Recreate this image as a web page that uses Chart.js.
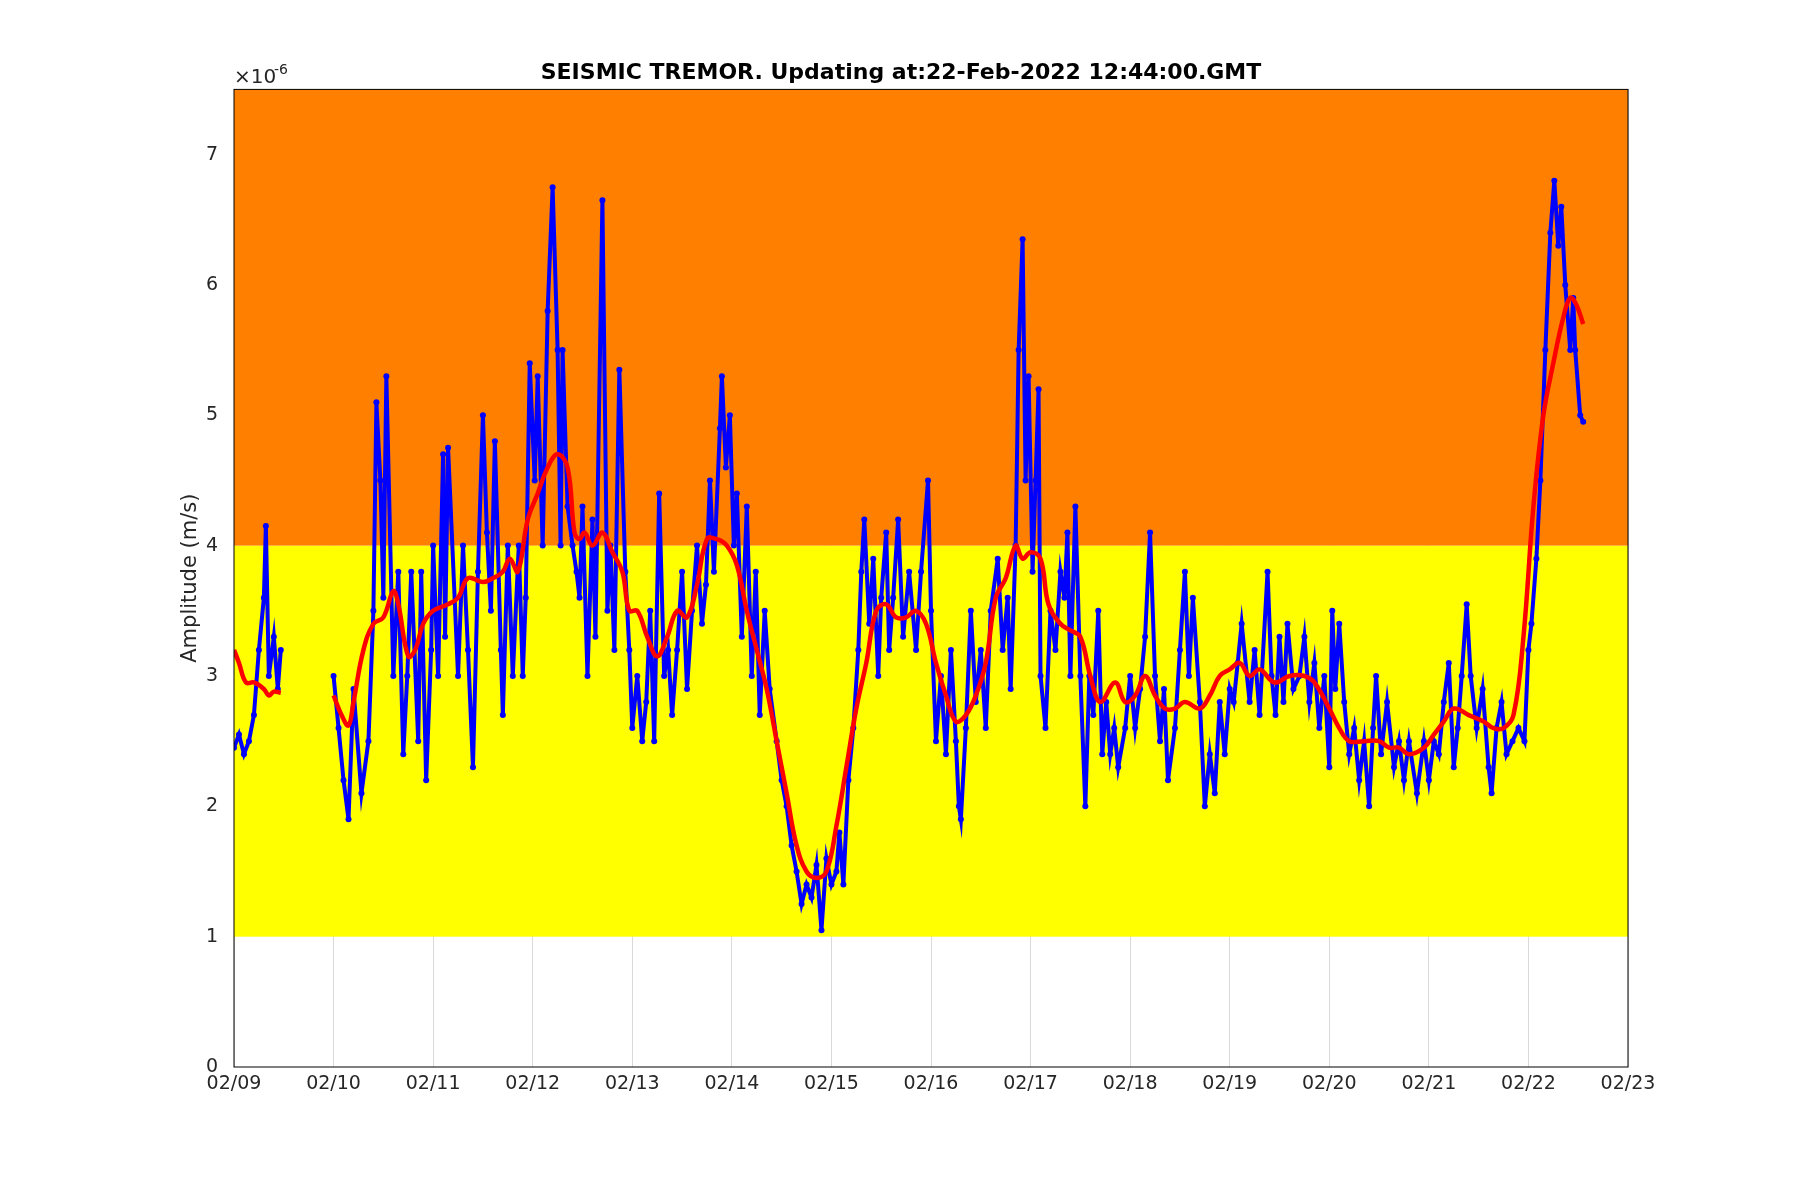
<!DOCTYPE html>
<html>
<head>
<meta charset="utf-8">
<script src="https://cdn.jsdelivr.net/npm/chart.js@4"></script>
<style>
  body { margin: 0; background: #fff; }
  #wrap { width: 1800px; height: 1200px; }
</style>
</head>
<body>
<div id="wrap"><canvas id="tremorChart"></canvas></div>
<script>
// x values are days since 02/09 00:00, y values in units of 1e-6 m/s

const dayLabels = ['02/09', '02/10', '02/11', '02/12', '02/13', '02/14', '02/15',
  '02/16', '02/17', '02/18', '02/19', '02/20', '02/21', '02/22', '02/23'];

const yTicks = [0, 1, 2, 3, 4, 5, 6, 7];

const bands = [
  { from: 1, to: 4, color: '#ffff00' },
  { from: 4, to: 7.5, color: '#ff8000' }
];

const tremorX = [
  0, 0.05, 0.1, 0.15, 0.2, 0.25, 0.3, 0.32, 0.35, 0.4, 0.44, 0.47, null,
  1.0, 1.05, 1.1, 1.15, 1.2, 1.28, 1.35, 1.4, 1.43, 1.47, 1.5, 1.53, 1.6, 1.65, 1.7, 1.74, 1.78, 1.85, 1.88, 1.93, 1.98,
  2.0, 2.05, 2.1, 2.12, 2.15, 2.25, 2.3, 2.35, 2.4, 2.45, 2.5, 2.54, 2.58, 2.62, 2.68, 2.7, 2.75, 2.8, 2.86, 2.9, 2.93, 2.97,
  3.02, 3.05, 3.1, 3.15, 3.2, 3.25, 3.28, 3.3, 3.35, 3.4, 3.44, 3.47, 3.5, 3.55, 3.6, 3.63, 3.7, 3.75, 3.78, 3.82, 3.87, 3.93, 3.97,
  4.0, 4.05, 4.1, 4.14, 4.18, 4.22, 4.27, 4.32, 4.36, 4.4, 4.45, 4.5, 4.55, 4.6, 4.65, 4.7, 4.74, 4.78, 4.82, 4.88, 4.9, 4.94, 4.98,
  5.02, 5.05, 5.1, 5.15, 5.2, 5.24, 5.28, 5.33, 5.38, 5.45, 5.5, 5.55, 5.6, 5.65, 5.7, 5.75, 5.8, 5.85, 5.9, 5.95, 6.0,
  6.05, 6.08, 6.12, 6.17, 6.22, 6.27, 6.3, 6.33, 6.38, 6.42, 6.47, 6.5, 6.55, 6.58, 6.62, 6.67, 6.72, 6.78, 6.85, 6.9, 6.97, 7.0,
  7.05, 7.1, 7.15, 7.2, 7.25, 7.28, 7.3, 7.35, 7.4, 7.45, 7.5, 7.55, 7.6, 7.67, 7.72, 7.77, 7.8, 7.85, 7.88, 7.92, 7.95, 7.98,
  8.02, 8.05, 8.08, 8.1, 8.15, 8.2, 8.25, 8.3, 8.34, 8.37, 8.4, 8.45, 8.5, 8.55, 8.59, 8.63, 8.68, 8.72, 8.76, 8.8, 8.84, 8.88, 8.95, 9.0,
  9.05, 9.1, 9.15, 9.2, 9.25, 9.3, 9.34, 9.38, 9.45, 9.5, 9.55, 9.59, 9.63, 9.7, 9.75, 9.8, 9.85, 9.9, 9.95, 10.0,
  10.04, 10.08, 10.12, 10.2, 10.25, 10.3, 10.38, 10.42, 10.46, 10.5, 10.54, 10.58, 10.64, 10.7, 10.75, 10.8, 10.85, 10.9, 10.95, 11.0,
  11.03, 11.06, 11.1, 11.15, 11.2, 11.25, 11.3, 11.35, 11.4, 11.44, 11.47, 11.52, 11.58, 11.65, 11.7, 11.75, 11.8, 11.88, 11.95, 12.0,
  12.05, 12.1, 12.15, 12.2, 12.25, 12.29, 12.33, 12.38, 12.42, 12.48, 12.54, 12.6, 12.63, 12.68, 12.73, 12.78, 12.84, 12.9, 12.96, 13.0,
  13.03, 13.08, 13.12, 13.17, 13.22, 13.26, 13.3, 13.33, 13.37, 13.42, 13.45, 13.47, 13.52, 13.55
];

const tremorY = [
  2.45, 2.55, 2.4, 2.5, 2.7, 3.2, 3.6, 4.15, 3.0, 3.3, 2.9, 3.2, null,
  3.0, 2.6, 2.2, 1.9, 2.9, 2.1, 2.5, 3.5, 5.1, 4.5, 3.6, 5.3, 3.0, 3.8, 2.4, 3.0, 3.8, 2.5, 3.8, 2.2, 3.2,
  4.0, 3.0, 4.7, 3.3, 4.75, 3.0, 4.0, 3.2, 2.3, 3.8, 5.0, 4.1, 3.5, 4.8, 3.2, 2.7, 4.0, 3.0, 4.0, 3.0, 3.6, 5.4,
  4.5, 5.3, 4.0, 5.8, 6.75, 5.5, 4.0, 5.5, 4.3, 4.0, 3.8, 3.6, 4.3, 3.0, 4.2, 3.3, 6.65, 3.5, 4.0, 3.2, 5.35, 3.8, 3.2,
  2.6, 3.0, 2.5, 2.8, 3.5, 2.5, 4.4, 3.0, 3.2, 2.7, 3.2, 3.8, 2.9, 3.5, 4.0, 3.4, 3.7, 4.5, 3.8, 4.9, 5.3, 4.6, 5.0,
  4.0, 4.4, 3.3, 4.3, 3.0, 3.8, 2.7, 3.5, 2.9, 2.5, 2.2, 2.0, 1.7, 1.5, 1.25, 1.4, 1.3, 1.55, 1.05, 1.6, 1.4,
  1.5, 1.8, 1.4, 2.2, 2.6, 3.2, 3.8, 4.2, 3.4, 3.9, 3.0, 3.6, 4.1, 3.2, 3.6, 4.2, 3.3, 3.8, 3.2, 3.8, 4.5, 3.5,
  2.5, 3.0, 2.4, 3.2, 2.5, 2.0, 1.9, 2.6, 3.5, 2.8, 3.2, 2.6, 3.5, 3.9, 3.2, 3.6, 2.9, 4.0, 5.5, 6.35, 4.5, 5.3,
  3.8, 4.5, 5.2, 3.0, 2.6, 3.5, 3.2, 3.8, 3.6, 4.1, 3.0, 4.3, 3.0, 2.0, 3.0, 2.7, 3.5, 2.4, 2.8, 2.4, 2.6, 2.3, 2.6, 3.0,
  2.6, 2.9, 3.3, 4.1, 3.0, 2.5, 2.9, 2.2, 2.6, 3.2, 3.8, 3.0, 3.6, 2.8, 2.0, 2.4, 2.1, 2.8, 2.4, 2.9,
  2.8, 3.1, 3.4, 2.8, 3.2, 2.7, 3.8, 3.0, 2.7, 3.3, 2.8, 3.4, 2.9, 3.0, 3.3, 2.8, 3.1, 2.6, 3.0, 2.3,
  3.5, 2.9, 3.4, 2.8, 2.4, 2.6, 2.2, 2.5, 2.0, 2.6, 3.0, 2.4, 2.8, 2.3, 2.5, 2.2, 2.5, 2.1, 2.5, 2.2,
  2.5, 2.4, 2.8, 3.1, 2.3, 2.6, 3.0, 3.55, 3.0, 2.6, 2.9, 2.3, 2.1, 2.6, 2.8, 2.4, 2.5, 2.6, 2.5, 3.2,
  3.4, 3.9, 4.5, 5.5, 6.4, 6.8, 6.3, 6.6, 6.0, 5.5, 5.9, 5.5, 5.0, 4.95
];

const trendX = [
  0, 0.05, 0.12, 0.2, 0.3, 0.35, 0.4, 0.47, 0.7,
  1.0, 1.08, 1.15, 1.2, 1.3, 1.4, 1.5, 1.6, 1.65, 1.75, 1.82, 1.9,
  2.0, 2.15, 2.25, 2.35, 2.5, 2.6, 2.7, 2.77, 2.85, 2.95,
  3.05, 3.15, 3.25, 3.35, 3.42, 3.47, 3.52, 3.6, 3.7, 3.8, 3.9, 3.97,
  4.05, 4.15, 4.25, 4.35, 4.45, 4.55, 4.65, 4.75, 4.85, 4.95,
  5.05, 5.15, 5.25, 5.35, 5.45, 5.55, 5.65, 5.75, 5.85, 5.95,
  6.05, 6.15, 6.25, 6.35, 6.45, 6.55, 6.65, 6.75, 6.85, 6.95,
  7.05, 7.15, 7.25, 7.35, 7.45, 7.55, 7.65, 7.75, 7.85, 7.92,
  8.0, 8.1, 8.18, 8.3, 8.4, 8.5, 8.6, 8.7, 8.85, 8.95,
  9.05, 9.15, 9.25, 9.35, 9.45, 9.55, 9.7, 9.8, 9.9,
  10.0, 10.1, 10.2, 10.3, 10.45, 10.6, 10.75, 10.85,
  11.0, 11.1, 11.2, 11.35, 11.5, 11.6, 11.7, 11.8, 11.95,
  12.05, 12.15, 12.25, 12.4, 12.55, 12.65, 12.75, 12.85, 12.95,
  13.05, 13.15, 13.25, 13.35, 13.42, 13.48, 13.55
];

const trendY = [
  3.2, 3.1, 2.95, 2.95, 2.9, 2.85, 2.88, 2.87, null,
  2.85, 2.7, 2.62, 2.8, 3.2, 3.4, 3.45, 3.65, 3.55, 3.15, 3.2, 3.4,
  3.5, 3.55, 3.6, 3.75, 3.72, 3.75, 3.8, 3.9, 3.8, 4.2,
  4.4, 4.6, 4.7, 4.6, 4.1, 4.05, 4.1, 4.0, 4.1, 3.95, 3.8, 3.5,
  3.5, 3.3, 3.15, 3.3, 3.5, 3.45, 3.7, 4.05, 4.05, 4.0,
  3.85, 3.5, 3.2, 2.9, 2.5, 2.1, 1.7, 1.5, 1.45, 1.5,
  1.85, 2.3, 2.75, 3.1, 3.5, 3.55, 3.45, 3.45, 3.5, 3.4,
  3.1, 2.85, 2.65, 2.7, 2.85, 3.1, 3.6, 3.75, 4.0, 3.9,
  3.95, 3.9, 3.55, 3.4, 3.35, 3.3, 3.0, 2.8, 2.95, 2.8,
  2.85, 3.0, 2.85, 2.75, 2.75, 2.8, 2.75, 2.85, 3.0,
  3.05, 3.1, 3.0, 3.05, 2.95, 3.0, 3.0, 2.95,
  2.75, 2.6, 2.5, 2.5, 2.5, 2.45, 2.45, 2.4, 2.45,
  2.55, 2.65, 2.75, 2.7, 2.65, 2.6, 2.6, 2.7, 3.3,
  4.3, 5.0, 5.4, 5.75, 5.9, 5.85, 5.7
];

const toPoints = (xs, ys) => xs.map((x, i) => ({ x: x, y: ys[i] }));

// coloured level bands, painted over the grid but under the data
const bandPlugin = {
  id: 'bands',
  beforeDatasetsDraw(chart) {
    const { ctx, chartArea, scales } = chart;
    ctx.save();
    bands.forEach(b => {
      const top = scales.y.getPixelForValue(b.to);
      const bottom = scales.y.getPixelForValue(b.from);
      ctx.fillStyle = b.color;
      ctx.fillRect(chartArea.left, top, chartArea.right - chartArea.left, bottom - top);
    });
    ctx.restore();
  },
  afterDatasetsDraw(chart) {
    const { ctx, chartArea } = chart;
    ctx.save();
    ctx.strokeStyle = '#000';
    ctx.lineWidth = 1;
    ctx.strokeRect(chartArea.left, chartArea.top, chartArea.right - chartArea.left, chartArea.bottom - chartArea.top);
    ctx.fillStyle = '#262626';
    ctx.font = '20px "DejaVu Sans"';
    ctx.textBaseline = 'bottom';
    ctx.fillText('\u00d710', chartArea.left, chartArea.top - 2);
    ctx.font = '14px "DejaVu Sans"';
    ctx.fillText('-6', chartArea.left + 40, chartArea.top - 12);
    ctx.restore();
  }
};

const ctx = document.getElementById('tremorChart');

new Chart(ctx, {
  type: 'scatter',
  data: {
    datasets: [
      {
        label: 'Trend',
        data: toPoints(trendX, trendY),
        showLine: true,
        borderColor: '#ff0000',
        borderWidth: 4.5,
        pointRadius: 0,
        tension: 0.4,
        spanGaps: false,
        order: 1
      },
      {
        label: 'Tremor',
        data: toPoints(tremorX, tremorY),
        showLine: true,
        borderColor: '#0000ff',
        backgroundColor: '#0000ff',
        borderWidth: 4,
        pointRadius: 3,
        pointBorderWidth: 0,
        spanGaps: false,
        order: 2
      }
    ]
  },
  options: {
    responsive: true,
    maintainAspectRatio: false,
    animation: false,
    layout: {
      padding: { left: 174, right: 172, top: 60, bottom: 89 }
    },
    plugins: {
      legend: { display: false },
      tooltip: { enabled: false },
      title: {
        display: true,
        text: 'SEISMIC TREMOR. Updating at:22-Feb-2022 12:44:00.GMT',
        color: '#000',
        font: { family: '"DejaVu Sans"', size: 22, weight: 'bold' },
        padding: { top: 0, bottom: 3 }
      }
    },
    scales: {
      x: {
        type: 'linear',
        min: 0,
        max: 14,
        afterBuildTicks: axis => {
          axis.ticks = dayLabels.map((_, i) => ({ value: i }));
        },
        afterFit: axis => { axis.height = 44; },
        ticks: {
          color: '#262626',
          font: { family: '"DejaVu Sans"', size: 19 },
          maxRotation: 0,
          padding: 6,
          callback: value => dayLabels[value]
        },
        grid: { color: '#d9d9d9', drawTicks: false },
        border: { display: false }
      },
      y: {
        min: 0,
        max: 7.5,
        afterBuildTicks: axis => {
          axis.ticks = yTicks.map(v => ({ value: v }));
        },
        afterFit: axis => { axis.width = 60; },
        ticks: {
          color: '#262626',
          font: { family: '"DejaVu Sans"', size: 19 },
          padding: 8
        },
        grid: { display: false },
        border: { display: false },
        title: {
          display: true,
          text: 'Amplitude (m/s)',
          color: '#262626',
          font: { family: '"DejaVu Sans"', size: 21 },
          padding: 4
        }
      }
    }
  },
  plugins: [bandPlugin]
});
</script>
</body>
</html>
